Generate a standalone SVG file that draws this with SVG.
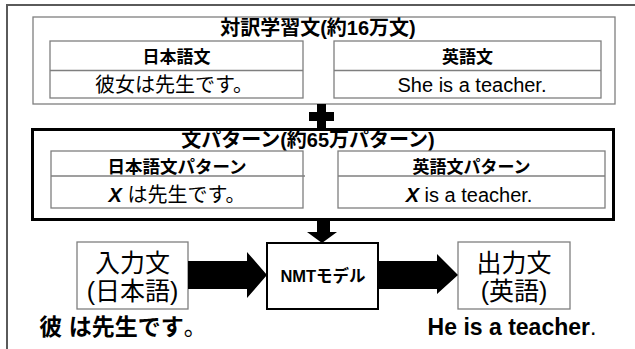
<svg xmlns="http://www.w3.org/2000/svg" width="635" height="349" viewBox="0 0 635 349">
<style>
text{font-family:"Liberation Sans","Noto Sans CJK JP",sans-serif;fill:#000;text-anchor:middle}
.b{font-weight:bold}
.g{fill:#fff;stroke:#7f7f7f;stroke-width:1.3}
.gl{stroke:#7f7f7f;stroke-width:1.3}
.k{fill:#fff;stroke:#000}
</style>
<rect width="635" height="349" fill="#fff"/>
<path d="M7,349 V5 H640" fill="none" stroke="#5a5a5a" stroke-width="2"/>

<g id="corpus">
<rect class="g" x="33" y="17" width="582" height="87" stroke-width="1.5"/>
<text class="b" x="318" y="35" font-size="20">対訳学習文(約16万文)</text>
</g>
<g id="jp-table">
<rect class="g" x="50" y="41" width="253" height="57"/>
<line class="gl" x1="50" y1="70.5" x2="303" y2="70.5"/>
<text class="b" x="176.5" y="63" font-size="17">日本語文</text>
<text x="174" y="92" font-size="20">彼女は先生です。</text>
</g>
<g id="en-table">
<rect class="g" x="334" y="41" width="267" height="57"/>
<line class="gl" x1="334" y1="70.5" x2="601" y2="70.5"/>
<text class="b" x="467.5" y="63" font-size="17">英語文</text>
<text x="472" y="92" font-size="20">She is a teacher.</text>
</g>

<g id="plus">
<rect x="309" y="112" width="25" height="9" fill="#000"/>
<rect x="317" y="104" width="9" height="25" fill="#000"/>
</g>

<g id="patterns">
<rect class="k" x="32.5" y="129.5" width="581" height="90" stroke-width="3"/>
<text class="b" x="308" y="147" font-size="20">文パターン(約65万パターン)</text>
</g>
<g id="jp-pattern">
<rect class="g" x="51" y="151" width="252" height="57"/>
<line class="gl" x1="51" y1="176" x2="305" y2="176"/>
<text class="b" x="177" y="173" font-size="17.5">日本語文パターン</text>
<text x="177" y="202" font-size="20"><tspan font-weight="bold" font-style="italic">X</tspan> は先生です。</text>
</g>
<g id="en-pattern">
<rect class="g" x="338" y="151" width="267" height="57"/>
<line class="gl" x1="338" y1="176" x2="605" y2="176"/>
<text class="b" x="471.5" y="173" font-size="17">英語文パターン</text>
<text x="469" y="202" font-size="20"><tspan font-weight="bold" font-style="italic">X</tspan> is a teacher.</text>
</g>

<g id="input">
<rect class="g" x="77" y="242" width="111" height="67"/>
<text x="132.5" y="272" font-size="25">入力文</text>
<text x="132.5" y="300" font-size="25">(日本語)</text>
<text class="b" x="123" y="335" font-size="23">彼 は先生です<tspan font-weight="normal">。</tspan></text>
</g>
<g id="nmt">
<rect class="k" x="267" y="243" width="111" height="66" stroke-width="2"/>
<text class="b" x="323" y="282" font-size="16.5">NMTモデル</text>
</g>
<g id="output">
<rect class="g" x="458" y="242" width="112" height="67"/>
<text x="514" y="272" font-size="25">出力文</text>
<text x="514" y="300" font-size="25">(英語)</text>
<text class="b" x="512" y="335" font-size="23">He is a teacher<tspan font-weight="normal">.</tspan></text>
</g>

<g id="connectors" fill="#000">
<polygon points="317,221 330,221 330,232 337,232 322,243 307,232 317,232"/>
<polygon points="188,261 247,261 247,252 267,275 247,298 247,289 188,289"/>
<polygon points="379,261 437,261 437,254 458,275 437,294 437,289 379,289"/>
</g>
</svg>
